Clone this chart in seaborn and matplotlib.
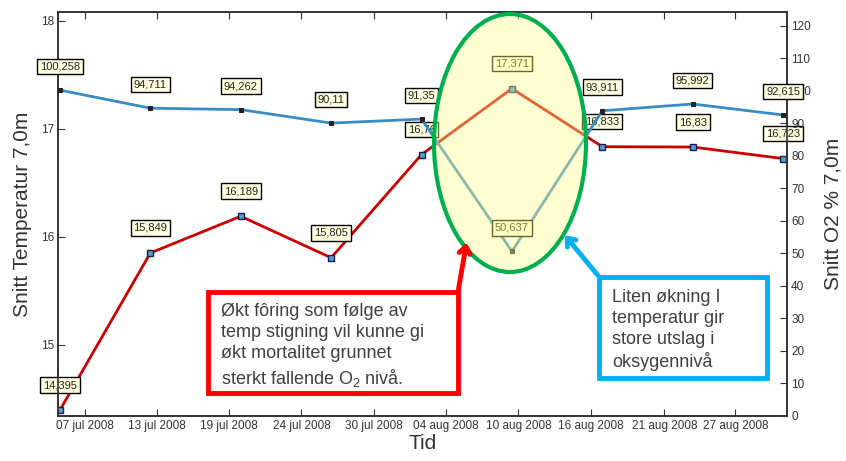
import matplotlib
matplotlib.use('Agg')
import matplotlib.pyplot as plt
import seaborn as sns
import pandas as pd
from matplotlib.patches import Ellipse, Rectangle, FancyArrowPatch

# weekly measurements (days since first sample)
days = [0, 7, 14, 21, 28, 35, 42, 49, 56]
temp = [14.395, 15.849, 16.189, 15.805, 16.76, 17.371, 16.833, 16.83, 16.723]
o2 = [100.258, 94.711, 94.262, 90.11, 91.35, 50.637, 93.911, 95.992, 92.615]

# date ticks as the original software placed them
tick_days = [1.94, 7.5, 13.1, 18.7, 24.3, 29.9, 35.5, 41.1, 46.8, 52.3]
tick_labels = ['07 jul 2008', '13 jul 2008', '19 jul 2008', '24 jul 2008', '30 jul 2008',
               '04 aug 2008', '10 aug 2008', '16 aug 2008', '21 aug 2008', '27 aug 2008']
temp_ticks = [15, 16, 17, 18]
o2_ticks = [0, 10, 20, 30, 40, 50, 60, 70, 80, 90, 100, 110, 120]

red_note = 'Økt fôring som følge av\ntemp stigning vil kunne gi\nøkt mortalitet grunnet\nsterkt fallende O$_2$ nivå.'
blue_note = 'Liten økning I\ntemperatur gir\nstore utslag i\noksygennivå'

df = pd.DataFrame({'day': days, 'temp': temp, 'o2': o2})

sns.set_style('ticks')
plt.rcParams['font.family'] = ['Liberation Sans', 'DejaVu Sans']
plt.rcParams['mathtext.fontset'] = 'custom'
plt.rcParams['mathtext.rm'] = 'Liberation Sans'
plt.rcParams['mathtext.it'] = 'Liberation Sans:italic'

W, H = 846, 461
fig = plt.figure(figsize=(W / 100, H / 100), dpi=100)
ax = fig.add_axes([58 / W, 1 - 416 / H, (787 - 58) / W, (416 - 12) / H])

dark = '#333333'
label_box = dict(boxstyle='square,pad=0.25', fc='#FFFFE0', ec='black', lw=1)

# temperature (left axis)
sns.lineplot(data=df, x='day', y='temp', ax=ax, color='#CC0000', lw=2,
             marker='s', ms=5, mfc='#5A9BD0', mec='#10204A', mew=1, zorder=3)
ax.set_xlim(-0.15, 56.3)
ax.set_ylim(14.34, 18.08)
ax.set_yticks(temp_ticks)
ax.set_xticks(tick_days)
ax.set_xticklabels(tick_labels)
ax.tick_params(axis='both', direction='in', length=5, labelsize=8.5, colors=dark, top=True, pad=3)
ax.set_ylabel('Snitt Temperatur 7,0m', fontsize=15, color=dark, labelpad=6)
ax.set_xlabel('Tid', fontsize=15, color=dark, labelpad=1)

for d, v in zip(days, temp):
    ax.annotate(str(v).replace('.', ','), xy=(d, v), xytext=(0, 18), textcoords='offset points',
                ha='center', va='center', fontsize=8, color='#222222', bbox=label_box,
                annotation_clip=False, zorder=4)

# oxygen (right axis)
ax2 = ax.twinx()
sns.lineplot(data=df, x='day', y='o2', ax=ax2, color='#3B8CC4', lw=2,
             marker='s', ms=3.5, mfc='#222222', mec='#222222', zorder=3)
ax2.set_ylim(0, 124.3)
ax2.set_yticks(o2_ticks)
ax2.tick_params(axis='y', direction='in', length=5, labelsize=8.5, colors=dark, pad=3)
ax2.set_ylabel('Snitt O2 % 7,0m', fontsize=15, color=dark, labelpad=9)

for d, v in zip(days, o2):
    ax2.annotate(str(v).replace('.', ','), xy=(d, v), xytext=(0, 17), textcoords='offset points',
                 ha='center', va='center', fontsize=8, color='#222222', bbox=label_box,
                 annotation_clip=False, zorder=4)

for a in (ax, ax2):
    for s in a.spines.values():
        s.set_color(dark)
        s.set_linewidth(1.2)

# highlight ellipse: translucent yellow fill, solid green rim
tf = fig.transFigure
fig.add_artist(Ellipse((510 / W, 1 - 143 / H), 152 / W, 258 / H, transform=tf,
                       fc=(1, 1, 0.55, 0.4), ec='#00B050', lw=3, zorder=10))

# red note with arrow
fig.add_artist(Rectangle((208 / W, 1 - 393 / H), 250 / W, 101 / H, transform=tf,
                         fc='white', ec='#FF0000', lw=3.5, zorder=11))
fig.text(221 / W, 1 - 303 / H, red_note, ha='left', va='top', fontsize=13,
         color='#404040', linespacing=1.3, zorder=12)
fig.add_artist(FancyArrowPatch((458 / W, 1 - 292 / H), (467 / W, 1 - 240 / H), transform=tf,
                               arrowstyle='->,head_length=5,head_width=4', color='#FF0000',
                               lw=3.5, zorder=11))

# blue note with arrow
fig.add_artist(Rectangle((599 / W, 1 - 378 / H), 168 / W, 101 / H, transform=tf,
                         fc='white', ec='#00B0F0', lw=3.5, zorder=11))
fig.text(612 / W, 1 - 289 / H, blue_note, ha='left', va='top', fontsize=13,
         color='#404040', linespacing=1.3, zorder=12)
fig.add_artist(FancyArrowPatch((600 / W, 1 - 278 / H), (563 / W, 1 - 233 / H), transform=tf,
                               arrowstyle='->,head_length=5,head_width=4', color='#00B0F0',
                               lw=3.5, zorder=11))

fig.savefig('out.png', dpi=100)
